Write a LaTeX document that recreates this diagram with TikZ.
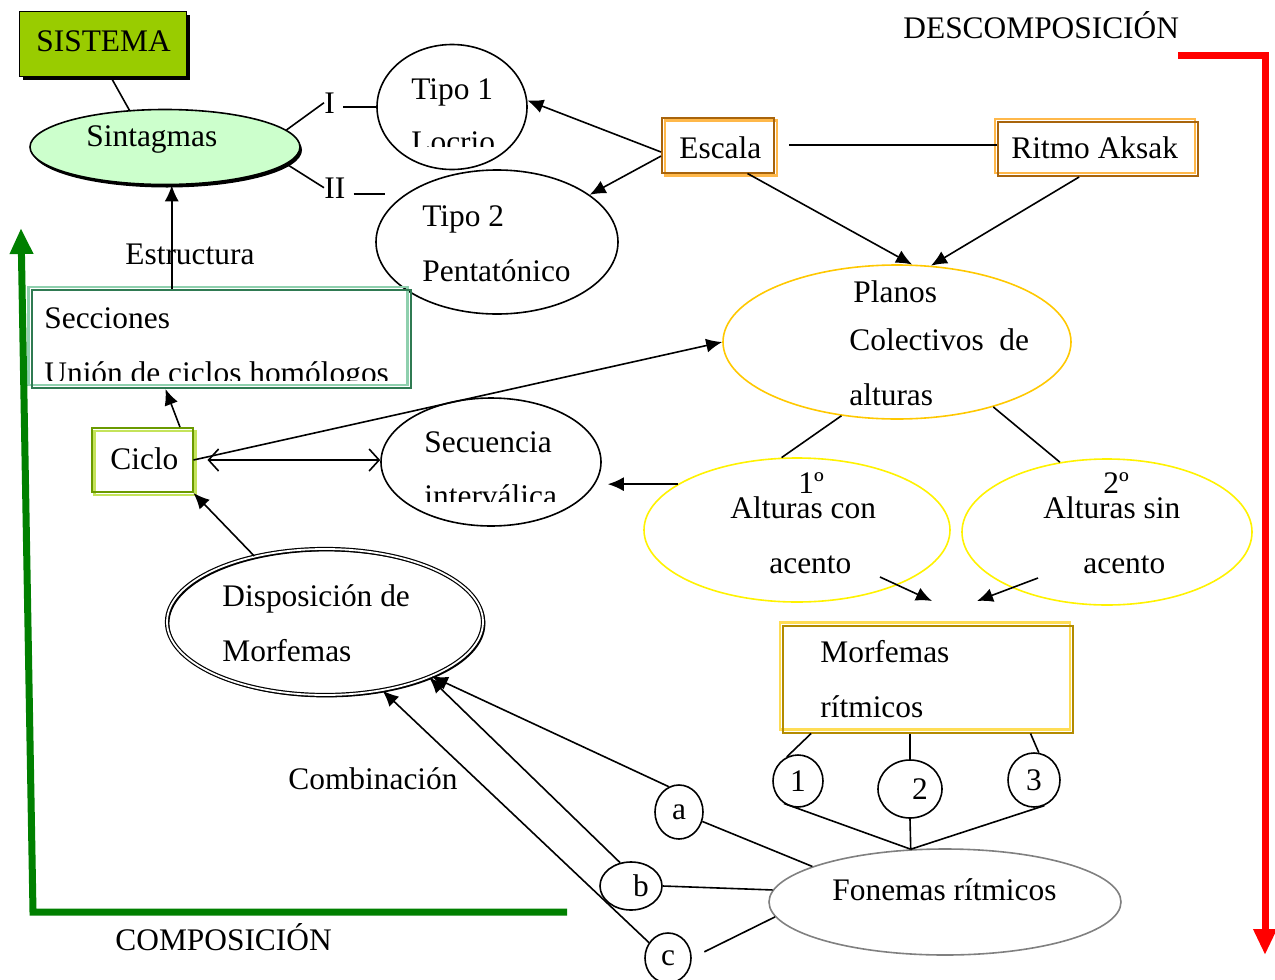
\documentclass[tikz,border=0pt]{standalone}
\usepackage{fontspec}
\setmainfont{Liberation Serif}
\usepackage{tikz}
\usetikzlibrary{shapes.geometric, arrows.meta, calc}

\definecolor{sisgreen}{HTML}{99CC00}
\definecolor{sintfill}{HTML}{CCFFCC}
\definecolor{escdark}{HTML}{A8640C}
\definecolor{esclight}{HTML}{FFB84A}
\definecolor{secdark}{HTML}{2F7A52}
\definecolor{seclight}{HTML}{8FD0AE}
\definecolor{cicdark}{HTML}{6A9A00}
\definecolor{ciclight}{HTML}{C4E35A}
\definecolor{mordark}{HTML}{B38B00}
\definecolor{morlight}{HTML}{FFDD55}
\definecolor{planosline}{HTML}{FFC800}
\definecolor{acline}{HTML}{FFF200}
\definecolor{compgreen}{HTML}{008000}

\tikzstyle{txt} = [inner sep=0pt, anchor=base west]
\tikzstyle{oval} = [ellipse, draw, line width=0.8pt, inner sep=0pt]
\tikzstyle{link} = [draw, line width=0.8pt]
\tikzstyle{arr} = [link, -{Latex[length=8pt,width=7pt]}]
\tikzstyle{bigarrow} = [line width=3.5pt, -{Triangle[length=13pt,width=11pt]}]
\tikzset{
  dblbox/.style n args={3}{rectangle, draw=#1, line width=1pt, inner sep=0pt,
    preaction={draw=#2, line width=1.3pt, transform canvas={shift={#3}}}},
}

\begin{document}
\begin{tikzpicture}[x=0.5pt, y=-0.5pt, font=\fontsize{15.7}{18}\selectfont]
    \useasboundingbox (0,0) rectangle (1275,980);

    % Shapes
    \node[rectangle, draw, line width=0.8pt, fill=sisgreen, minimum width=83.5pt, minimum height=32.5pt,
      preaction={fill=black, transform canvas={shift={(1.6pt,-1.6pt)}}}] (sistema) at (103,44) {};
    \node[oval, fill=sintfill, minimum width=135pt, minimum height=37.5pt,
      preaction={fill=black, transform canvas={shift={(1pt,-1.5pt)}}}] (sint) at (165,147) {};
    \node[oval, minimum width=75pt, minimum height=62.5pt] (tipo1) at (452,107) {};
    \node[oval, minimum width=121pt, minimum height=72pt] (tipo2) at (497,242) {};
    \node[dblbox={escdark}{esclight}{(1.5pt,-1.5pt)}, minimum width=56pt, minimum height=27.5pt] (escala) at (718,145) {};
    \node[dblbox={escdark}{esclight}{(-1.5pt,1.5pt)}, minimum width=100pt, minimum height=27pt] (ritmo) at (1098,149) {};
    \node[dblbox={secdark}{seclight}{(-1.5pt,1.5pt)}, minimum width=189.5pt, minimum height=49pt] (secc) at (221,339) {};
    \node[dblbox={cicdark}{ciclight}{(1.5pt,-1.5pt)}, minimum width=50.5pt, minimum height=32pt] (ciclo) at (142,460) {};
    \node[oval, minimum width=110pt, minimum height=64pt] (secu) at (491,462) {};
    \node[oval, draw=planosline, minimum width=174pt, minimum height=77pt] (planos) at (897,342) {};
    \node[oval, draw=acline, minimum width=153pt, minimum height=72pt] (uno) at (797,530) {};
    \node[oval, draw=acline, minimum width=145pt, minimum height=73pt] (dos) at (1107,532) {};
    \node[dblbox={mordark}{morlight}{(-1.5pt,1.5pt)}, minimum width=145pt, minimum height=53.5pt] (morf) at (928,679) {};
    \node[oval, line width=0.6pt, double, double distance=0.9pt, minimum width=158pt, minimum height=73pt,
      preaction={draw, line width=0.8pt, transform canvas={shift={(0.8pt,-0.8pt)}}}] (disp) at (325,622) {};
    \node[oval, draw=gray, minimum width=176pt, minimum height=53pt] (fon) at (945,902) {};

    % Small circles
    \node[oval, minimum width=25pt, minimum height=26pt] (c1) at (798,781) {1};
    \node[oval, minimum width=32pt, minimum height=29pt] (c2) at (910,789) {\hspace{10pt}2};
    \node[oval, minimum width=26pt, minimum height=27pt] (c3) at (1034,780) {3};
    \node[oval, minimum width=24pt, minimum height=27pt] (ca) at (679,812) {a};
    \node[oval, minimum width=31pt, minimum height=24pt] (cb) at (631,886) {\hspace{10pt}b};
    \node[oval, minimum width=23pt, minimum height=25pt] (cc) at (668,958) {c};

    % Texts
    \node[txt] (tSistema) at (36,51) {SISTEMA};
    \node[txt] (tSint) at (86,146) {Sintagmas};
    \node[txt] (labI) at (324,113) {I};
    \node[txt] (labII) at (324,198) {II};
    \node[txt] (tTipo1) at (411,99) {Tipo 1};
    \begin{scope}
        \clip (400,120) rectangle (520,146);
        \node[txt] (tLocrio) at (411,152) {Locrio};
    \end{scope}
    \node[txt] (tTipo2) at (422,226) {Tipo 2};
    \node[txt] (tPenta) at (422,281) {Pentatónico};
    \node[txt] (tEscala) at (679,158) {Escala};
    \node[txt] (tRitmo) at (1011,158) {Ritmo Aksak};
    \node[txt] (tDescomp) at (903,38) {DESCOMPOSICIÓN};
    \node[txt] (tEstruct) at (125,264) {Estructura};
    \node[txt] (tSecc) at (44,328) {Secciones};
    \begin{scope}
        \clip (40,345) rectangle (405,380);
        \node[txt] (tUnion) at (44,383) {Unión de ciclos homólogos};
    \end{scope}
    \node[txt] (tCiclo) at (110,469) {Ciclo};
    \node[txt] (tSecu) at (424,452) {Secuencia};
    \begin{scope}
        \clip (415,470) rectangle (580,501);
        \node[txt] (tInterv) at (424,506) {interválica};
    \end{scope}
    \node[txt] (tPlanos) at (853,302) {Planos};
    \node[txt] (tColect) at (849,350) {Colectivos~~de};
    \node[txt] (tAlturas) at (849,405) {alturas};
    \node[txt] (tUno) at (798,493) {1º};
    \node[txt] (tConA) at (730,518) {Alturas con};
    \node[txt] (tConB) at (769,573) {acento};
    \node[txt] (tDos) at (1103,493) {2º};
    \node[txt] (tSinA) at (1043,518) {Alturas sin};
    \node[txt] (tSinB) at (1083,573) {acento};
    \node[txt] (tMorfA) at (820,662) {Morfemas};
    \node[txt] (tMorfB) at (820,717) {rítmicos};
    \node[txt] (tDispA) at (222,606) {Disposición de};
    \node[txt] (tDispB) at (222,661) {Morfemas};
    \node[txt] (tComb) at (288,789) {Combinación};
    \node[txt] (tFon) at (832,900) {Fonemas rítmicos};
    \node[txt] (tComp) at (115,950) {COMPOSICIÓN};

    % Free ends
    \coordinate (iiend) at (385,194);
    \coordinate (acA1) at (880,577);
    \coordinate (acA2) at (932,601);
    \coordinate (acB1) at (1038,578);
    \coordinate (acB2) at (977,601);
    \coordinate (junc) at (fon.123);

    % Lines
    \path (sistema.south) ++(4pt,0) coordinate (sisfoot);
    \path[link] (sisfoot) -- (sint.134);
    \path[link] (sint.8) -- (labI.west);
    \path[link] ([xshift=4pt]labI.east |- tipo1.west) -- (tipo1.west);
    \path[link] (sint.-8) -- (labII.west);
    \path[link] ([xshift=4pt]labII.east |- iiend) -- (iiend);
    \path[arr] (escala.187) -- (tipo1.5);
    \path[arr] (escala.191) -- (tipo2.27);
    \path[link] ([xshift=7pt]escala.east) -- (escala.east -| ritmo.west);
    \path[arr] (escala.-44) -- (planos.79);
    \path[arr] (ritmo.-124) -- (planos.66);
    \path[arr] (secc.north -| sint.-80) -- (sint.-80);
    \path[arr] (ciclo.41) -- (secc.-138);
    \path[arr] (ciclo.east) -- (planos.west);
    \path[link, {Straight Barb[length=5pt,width=11pt]}-{Straight Barb[length=5pt,width=11pt]}]
        ([xshift=7pt]ciclo.east) -- (ciclo.east -| secu.west);
    \path[arr, shorten >=3pt] (uno.159) -- (uno.159 -| secu.east);
    \path[link] (planos.-127) -- (uno.102);
    \path[link] (planos.-34) -- (dos.124);
    \path[arr] (acA1) -- (acA2);
    \path[arr] (acB1) -- (acB2);
    \path[link] (morf.-155) -- (c1.115);
    \path[link] (c2.north |- morf.south) -- (c2.north);
    \path[link] (morf.-28) -- (c3.80);
    \path[link] (c1.-122) -- (junc);
    \path[link] (c2.south) -- (junc);
    \path[link] (c3.-68) -- (junc);
    \path[link] (fon.165) -- (ca.-22);
    \path[link] (fon.176) -- (cb.east);
    \path[link, shorten >=7pt] (fon.-175) -- (cc.east);
    \path[arr] (ca.112) -- (disp.-27);
    \path[arr] (cb.115) -- (disp.-28);
    \path[arr] (cc.141) -- (disp.-50);
    \path[arr] (disp.137) -- (ciclo.south east);

    % Composicion / descomposicion
    \coordinate (gend) at (567,912);
    \coordinate (gcorner) at (33,912);
    \coordinate (gtop) at (21,228);
    \draw[compgreen, bigarrow] (gend) -- (gcorner) -- (gtop);
    \coordinate (rstart) at (1178,55);
    \coordinate (rcorner) at (1265,55);
    \coordinate (rend) at (1265,955);
    \draw[red, bigarrow] (rstart) -- (rcorner) -- (rend);
\end{tikzpicture}
\end{document}
